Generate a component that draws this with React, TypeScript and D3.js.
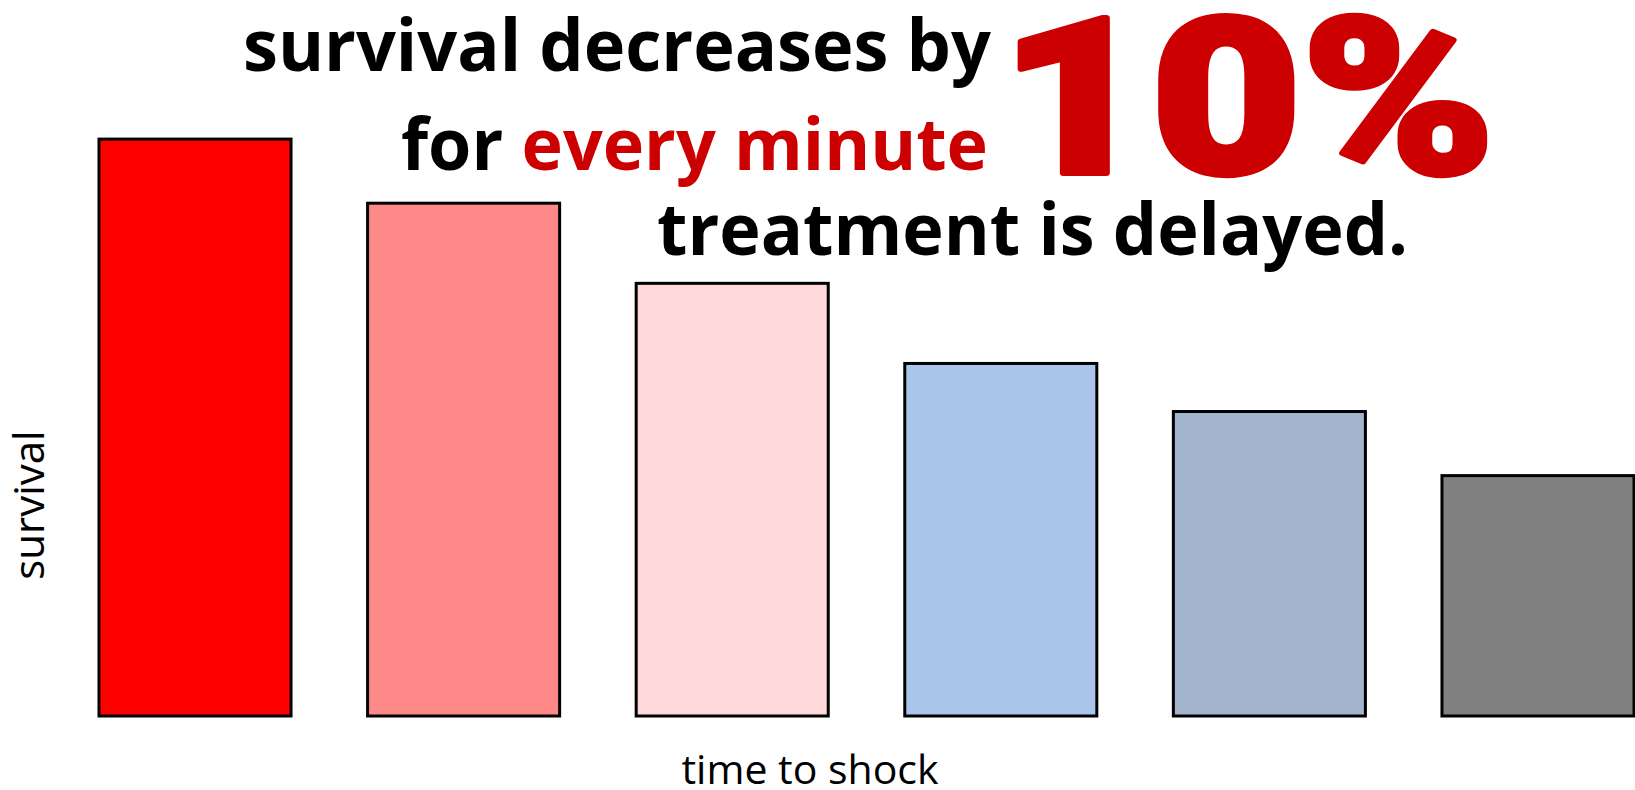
import { useEffect, useRef } from 'react';
import * as d3 from 'd3';

// minutes until the shock is delivered (bars are unlabeled in the original)
const minutes = ['1', '2', '3', '4', '5', '6'];
const survival = [90, 80, 67.5, 55, 47.5, 37.5];
const barColors = ['#FF0000', '#FF8888', '#FFD9D9', '#A9C5EA', '#A3B5CD', '#808080'];

const WIDTH = 1635;
const HEIGHT = 790;

export default function App() {
  const svgRef = useRef<SVGSVGElement>(null);

  useEffect(() => {
    if (!svgRef.current) return;
    const svg = d3.select(svgRef.current);
    svg.selectAll('*').remove();

    const baseY = 716;

    const x = d3.scaleBand<string>()
      .domain(minutes)
      .range([99, 1634])
      .paddingInner(0.285)
      .paddingOuter(0);

    const y = d3.scaleLinear()
      .domain([0, 100])
      .range([baseY, 75]);

    // Bars
    svg.append('g')
      .selectAll('rect')
      .data(survival)
      .enter()
      .append('rect')
      .attr('x', (_, i) => x(minutes[i]) || 0)
      .attr('y', d => y(d))
      .attr('width', x.bandwidth())
      .attr('height', d => baseY - y(d))
      .attr('fill', (_, i) => barColors[i])
      .attr('stroke', '#000')
      .attr('stroke-width', 3);

    // Axis titles
    svg.append('text')
      .attr('transform', `translate(44, 505) rotate(-90)`)
      .attr('text-anchor', 'middle')
      .attr('font-family', '"Open Sans", sans-serif')
      .attr('font-size', 42)
      .attr('fill', '#000')
      .text('survival');

    svg.append('text')
      .attr('x', 810)
      .attr('y', 784)
      .attr('text-anchor', 'middle')
      .attr('font-family', '"Open Sans", sans-serif')
      .attr('font-size', 41)
      .attr('fill', '#000')
      .text('time to shock');

    // Headline
    const head = svg.append('g')
      .attr('font-family', '"Open Sans", sans-serif')
      .attr('font-weight', 700)
      .attr('font-size', 72)
      .attr('fill', '#000');

    head.append('text')
      .attr('x', 243)
      .attr('y', 71)
      .attr('textLength', 748)
      .attr('lengthAdjust', 'spacingAndGlyphs')
      .text('survival decreases by');

    const l2 = head.append('text')
      .attr('x', 401)
      .attr('y', 170)
      .attr('textLength', 587)
      .attr('lengthAdjust', 'spacingAndGlyphs');
    l2.append('tspan').text('for ');
    l2.append('tspan').attr('fill', '#CC0000').text('every minute');

    head.append('text')
      .attr('x', 657)
      .attr('y', 255)
      .attr('textLength', 751)
      .attr('lengthAdjust', 'spacingAndGlyphs')
      .text('treatment is delayed.');

    svg.append('text')
      .attr('x', 1000)
      .attr('y', 173)
      .attr('font-family', 'Roboto, "Open Sans", sans-serif')
      .attr('font-weight', 900)
      .attr('font-size', 218)
      .attr('textLength', 495)
      .attr('lengthAdjust', 'spacingAndGlyphs')
      .attr('fill', '#CC0000')
      .attr('stroke', '#CC0000')
      .attr('stroke-width', 6)
      .attr('stroke-linejoin', 'round')
      .text('10%');
  }, []);

  return (
    <svg
      ref={svgRef}
      width={WIDTH}
      height={HEIGHT}
      style={{ position: 'absolute', left: 0, top: 0, background: '#fff', display: 'block' }}
    />
  );
}
